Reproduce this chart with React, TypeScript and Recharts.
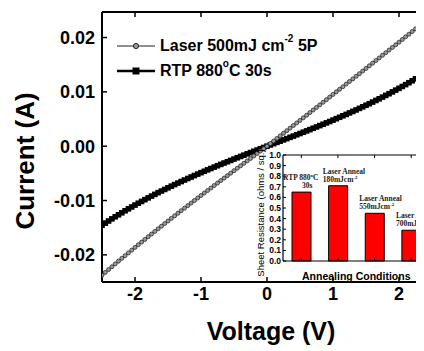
import React from 'react';
import { LineChart, Line, XAxis, YAxis, Legend, Label, BarChart, Bar, LabelList } from 'recharts';

// ---------- main I-V data ----------
const voltage = [
  -2.5, -2.45, -2.4, -2.35, -2.3, -2.25, -2.2, -2.15, -2.1, -2.05,
  -2.0, -1.95, -1.9, -1.85, -1.8, -1.75, -1.7, -1.65, -1.6, -1.55,
  -1.5, -1.45, -1.4, -1.35, -1.3, -1.25, -1.2, -1.15, -1.1, -1.05,
  -1.0, -0.95, -0.9, -0.85, -0.8, -0.75, -0.7, -0.65, -0.6, -0.55,
  -0.5, -0.45, -0.4, -0.35, -0.3, -0.25, -0.2, -0.15, -0.1, -0.05,
  0,
  0.05, 0.1, 0.15, 0.2, 0.25, 0.3, 0.35, 0.4, 0.45, 0.5,
  0.55, 0.6, 0.65, 0.7, 0.75, 0.8, 0.85, 0.9, 0.95, 1.0,
  1.05, 1.1, 1.15, 1.2, 1.25, 1.3, 1.35, 1.4, 1.45, 1.5,
  1.55, 1.6, 1.65, 1.7, 1.75, 1.8, 1.85, 1.9, 1.95, 2.0,
  2.05, 2.1, 2.15, 2.2, 2.25, 2.3, 2.35, 2.4, 2.45, 2.5,
];

const laserCurrent = [
  -0.02375, -0.02323, -0.02271, -0.02219, -0.02167, -0.02116, -0.02065, -0.02015, -0.01964, -0.01914,
  -0.01864, -0.01814, -0.01765, -0.01716, -0.01667, -0.01618, -0.01569, -0.01521, -0.01473, -0.01425,
  -0.01377, -0.01329, -0.01282, -0.01235, -0.01188, -0.01141, -0.01094, -0.01047, -0.01001, -0.00954,
  -0.00908, -0.00862, -0.00816, -0.0077, -0.00724, -0.00678, -0.00633, -0.00587, -0.00542, -0.00496,
  -0.00451, -0.00406, -0.00361, -0.00315, -0.0027, -0.00225, -0.0018, -0.00135, -0.0009, -0.00045,
  0,
  0.00048, 0.00095, 0.00143, 0.0019, 0.00238, 0.00285, 0.00333, 0.0038, 0.00428, 0.00475,
  0.00523, 0.0057, 0.00618, 0.00666, 0.00713, 0.00761, 0.00809, 0.00856, 0.00904, 0.00952,
  0.01, 0.01048, 0.01095, 0.01143, 0.01191, 0.01239, 0.01287, 0.01335, 0.01383, 0.01431,
  0.0148, 0.01528, 0.01576, 0.01624, 0.01673, 0.01721, 0.0177, 0.01818, 0.01867, 0.01915,
  0.01964, 0.02013, 0.02061, 0.0211, 0.02159, 0.02208, 0.02257, 0.02306, 0.02355, 0.02405,
];

const rtpCurrent = [
  -0.01456, -0.01416, -0.01377, -0.01338, -0.013, -0.01263, -0.01226, -0.01189, -0.01154, -0.01119,
  -0.01084, -0.0105, -0.01017, -0.00984, -0.00951, -0.00919, -0.00887, -0.00856, -0.00826, -0.00796,
  -0.00766, -0.00736, -0.00707, -0.00679, -0.00651, -0.00623, -0.00595, -0.00568, -0.00541, -0.00514,
  -0.00488, -0.00462, -0.00436, -0.00411, -0.00385, -0.0036, -0.00335, -0.0031, -0.00286, -0.00262,
  -0.00237, -0.00213, -0.00189, -0.00165, -0.00141, -0.00118, -0.00094, -0.00071, -0.00047, -0.00024,
  0,
  0.00023, 0.00046, 0.0007, 0.00093, 0.00116, 0.00139, 0.00163, 0.00186, 0.0021, 0.00233,
  0.00257, 0.00281, 0.00305, 0.0033, 0.00354, 0.00379, 0.00404, 0.00429, 0.00454, 0.0048,
  0.00506, 0.00532, 0.00559, 0.00585, 0.00612, 0.0064, 0.00667, 0.00696, 0.00724, 0.00753,
  0.00782, 0.00812, 0.00842, 0.00872, 0.00903, 0.00935, 0.00966, 0.00999, 0.01032, 0.01065,
  0.01099, 0.01133, 0.01168, 0.01204, 0.0124, 0.01277, 0.01314, 0.01352, 0.01391, 0.0143,
];

const xTicks = [-2, -1, 0, 1, 2];
const yTicks = [-0.02, -0.01, 0, 0.01, 0.02];
const xDomain = [-2.5, 2.5];
const yDomain = [-0.025, 0.0247];

const legendParts = [
  { pre: 'Laser 500mJ cm', sup: '-2', post: ' 5P' },
  { pre: 'RTP 880', sup: 'o', post: 'C 30s' },
];

// ---------- inset data ----------
const insetCategories = ['RTP 880°C 30s', 'Laser Anneal 180mJcm-2', 'Laser Anneal 550mJcm-2', 'Laser Anneal 700mJcm-2'];
const insetValues = [0.65, 0.71, 0.45, 0.29];
const insetLine1 = ['RTP 880', 'Laser Anneal', 'Laser Anneal', 'Laser Anneal'];
const insetLine1Sup = ['o', '', '', ''];
const insetLine1Post = ['C', '', '', ''];
const insetLine2 = ['30s', '180mJcm', '550mJcm', '700mJcm'];
const insetSup = ['', '-2', '-2', '-2'];
const insetTicks = [0, 0.1, 0.2, 0.3, 0.4, 0.5, 0.6, 0.7, 0.8, 0.9, 1.0];

const data = voltage.map((v, i) => ({ v, laser: laserCurrent[i], rtp: rtpCurrent[i] }));
const insetData = insetCategories.map((name, i) => ({ name, value: insetValues[i] }));

const SANS = '"Liberation Sans", Arial, Helvetica, sans-serif';
const SERIF = '"Liberation Serif", "Times New Roman", serif';

const tickStyle = { fill: '#000', fontSize: 18, fontWeight: 700, fontFamily: SANS };
const axisLineStyle = { stroke: '#000', strokeWidth: 2 };
const tickLineStyle = { stroke: '#000', strokeWidth: 1.5 };

const LaserDot = (p: any) => {
  if (p.cx == null || p.cy == null) return <g key={`ld${p.index}`} />;
  return <circle key={`ld${p.index}`} cx={p.cx} cy={p.cy} r={2} fill="#999" stroke="#2a2a2a" strokeWidth={0.8} />;
};
const RtpDot = (p: any) => {
  if (p.cx == null || p.cy == null) return <g key={`rd${p.index}`} />;
  return <rect key={`rd${p.index}`} x={p.cx - 2.8} y={p.cy - 2.8} width={5.6} height={5.6} fill="#000" />;
};

const XTitle = (props: any) => {
  const vb = props.viewBox || { x: 94, y: 274, width: 330, height: 69 };
  return (
    <text x={vb.x + vb.width / 2 + 4} y={vb.y + 58} textAnchor="middle" fontFamily={SANS} fontWeight={700} fontSize={25} fill="#000">
      Voltage (V)
    </text>
  );
};
const YTitle = (props: any) => {
  const vb = props.viewBox || { x: 0, y: 4, width: 94, height: 270 };
  const x = vb.x + 26;
  const y = vb.y + vb.height / 2 + 14;
  return (
    <text x={x} y={y} transform={`rotate(-90, ${x}, ${y})`} textAnchor="middle" fontFamily={SANS} fontWeight={700} fontSize={26} fill="#000">
      Current (A)
    </text>
  );
};

const InsetXTitle = (props: any) => {
  const vb = props.viewBox || { x: 35, y: 113, width: 146.5, height: 22 };
  return (
    <text x={vb.x + vb.width / 2} y={vb.y + 19} textAnchor="middle" fontFamily={SANS} fontWeight={700} fontSize={10.5} fill="#000">
      Annealing Conditions
    </text>
  );
};
const InsetYTitle = (props: any) => {
  const vb = props.viewBox || { x: 0, y: 7, width: 35, height: 106 };
  const x = vb.x + 16;
  const y = vb.y + vb.height / 2 + 5;
  return (
    <text x={x} y={y} transform={`rotate(-90, ${x}, ${y})`} textAnchor="middle" fontFamily={SANS} fontSize={9.5} fill="#000">
      Sheet Resistance (ohms / sq.)
    </text>
  );
};

const AnnotLabel = (p: any) => {
  const i = p.index;
  if (i == null) return null;
  const x = Number(p.x);
  const y = Number(p.y);
  const sup = insetSup[i];
  const l1x = sup ? x - 6 : x - 9;
  const l2x = sup ? x - 6 : x + 10;
  return (
    <g>
      <text x={l1x} y={y - 12} fontFamily={SERIF} fontWeight={700} fontSize={7.5} fill="#222">
        {insetLine1[i]}
        {insetLine1Sup[i] ? (
          <tspan dy={-3} fontSize={5}>{insetLine1Sup[i]}</tspan>
        ) : null}
        {insetLine1Post[i] ? <tspan dy={3}>{insetLine1Post[i]}</tspan> : null}
      </text>
      <text x={l2x} y={y - 4} fontFamily={SERIF} fontWeight={700} fontSize={7.5} fill="#222">
        {insetLine2[i]}
        {sup ? (
          <tspan dy={-3} fontSize={5}>{sup}</tspan>
        ) : null}
      </text>
    </g>
  );
};

const LegendContent = () => (
  <div style={{ fontFamily: SANS, fontWeight: 700, fontSize: 16, color: '#000', whiteSpace: 'nowrap' }}>
    {legendParts.map((lp, i) => (
      <div key={i} style={{ display: 'flex', alignItems: 'center', height: 25 }}>
        <svg width={43} height={12} style={{ display: 'block' }}>
          {i === 0 ? (
            <g>
              <line x1={0} x2={38} y1={6} y2={6} stroke="#6a6a6a" strokeWidth={1.5} />
              <circle cx={19} cy={6} r={2.6} fill="#999" stroke="#222" strokeWidth={1} />
            </g>
          ) : (
            <g>
              <line x1={0} x2={38} y1={6} y2={6} stroke="#000" strokeWidth={2.5} />
              <rect x={15.5} y={2.5} width={7} height={7} fill="#000" />
            </g>
          )}
        </svg>
        <span>
          {lp.pre}
          <sup style={{ fontSize: 10, verticalAlign: 'top', lineHeight: '10px', position: 'relative', top: -3 }}>{lp.sup}</sup>
          {lp.post}
        </span>
      </div>
    ))}
  </div>
);

export default function App() {
  return (
    <div style={{ position: 'relative', width: 416, height: 343, overflow: 'hidden', background: '#fff' }}>
      <LineChart width={430} height={343} data={data} margin={{ top: 3, right: 6, bottom: 0, left: 0 }}>
        <XAxis
          dataKey="v"
          type="number"
          domain={xDomain}
          ticks={xTicks}
          allowDataOverflow
          interval={0}
          height={69}
          tickSize={-5}
          tickMargin={10}
          tick={tickStyle}
          axisLine={axisLineStyle}
          tickLine={tickLineStyle}
        >
          <Label content={XTitle} />
        </XAxis>
        <XAxis
          xAxisId="top"
          orientation="top"
          dataKey="v"
          type="number"
          domain={xDomain}
          ticks={xTicks}
          allowDataOverflow
          interval={0}
          height={1}
          tickSize={-5}
          tickFormatter={() => ''}
          axisLine={axisLineStyle}
          tickLine={tickLineStyle}
        />
        <YAxis
          type="number"
          domain={yDomain}
          ticks={yTicks}
          allowDataOverflow
          interval={0}
          width={94}
          tickSize={-5}
          tickMargin={12}
          tick={tickStyle}
          tickFormatter={(v: number) => v.toFixed(2)}
          axisLine={axisLineStyle}
          tickLine={tickLineStyle}
        >
          <Label content={YTitle} />
        </YAxis>
        <Legend
          layout="vertical"
          align="center"
          verticalAlign="middle"
          content={LegendContent}
          wrapperStyle={{ position: 'absolute', left: 109, top: 25, width: 'auto', height: 'auto' }}
        />
        <Line
          type="linear"
          dataKey="rtp"
          name="RTP 880°C 30s"
          stroke="#000"
          strokeWidth={1.5}
          dot={RtpDot}
          activeDot={false}
          isAnimationActive={false}
        />
        <Line
          type="linear"
          dataKey="laser"
          name="Laser 500mJ cm-2 5P"
          stroke="#444"
          strokeWidth={1}
          dot={LaserDot}
          activeDot={false}
          isAnimationActive={false}
        />
      </LineChart>

      <div style={{ position: 'absolute', left: 240, top: 140 }}>
        <BarChart width={190} height={135} data={insetData} margin={{ top: 6, right: 8.5, bottom: 0, left: 0 }}>
          <XAxis
            dataKey="name"
            height={22}
            interval={0}
            tickSize={-3}
            tickFormatter={() => ''}
            axisLine={{ stroke: '#000', strokeWidth: 1.2 }}
            tickLine={{ stroke: '#000' }}
          >
            <Label content={InsetXTitle} />
          </XAxis>
          <XAxis
            xAxisId="top"
            orientation="top"
            dataKey="name"
            height={1}
            interval={0}
            tickSize={-3}
            tickFormatter={() => ''}
            axisLine={{ stroke: '#000', strokeWidth: 1.2 }}
            tickLine={{ stroke: '#000' }}
          />
          <YAxis
            type="number"
            domain={[0, 1]}
            ticks={insetTicks}
            interval={0}
            width={35}
            tickSize={-3}
            tickMargin={5}
            tick={{ fill: '#000', fontSize: 8.5, fontWeight: 700, fontFamily: SANS }}
            tickFormatter={(v: number) => v.toFixed(1)}
            axisLine={{ stroke: '#000', strokeWidth: 1.2 }}
            tickLine={{ stroke: '#000' }}
          >
            <Label content={InsetYTitle} />
          </YAxis>
          <Bar dataKey="value" fill="#ff0000" stroke="#000" strokeWidth={1} barSize={19} isAnimationActive={false}>
            <LabelList dataKey="value" content={AnnotLabel} />
          </Bar>
        </BarChart>
      </div>
    </div>
  );
}
